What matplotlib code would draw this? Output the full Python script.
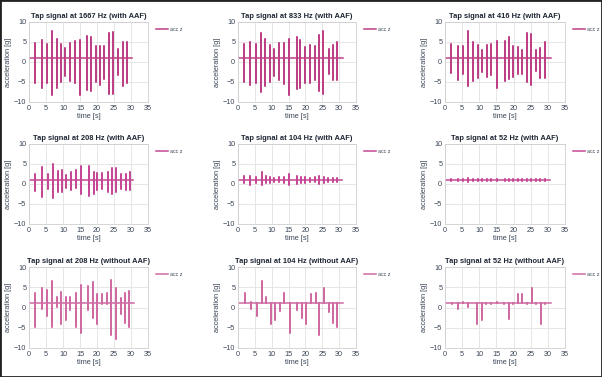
import numpy as np
import matplotlib
matplotlib.use("Agg")
import matplotlib.pyplot as plt
from matplotlib.patches import Rectangle

plt.rcParams['font.family'] = ['Liberation Sans', 'DejaVu Sans']

titles = [
    "Tap signal at 1667 Hz (with AAF)", "Tap signal at 833 Hz (with AAF)", "Tap signal at 416 Hz (with AAF)",
    "Tap signal at 208 Hz (with AAF)", "Tap signal at 104 Hz (with AAF)", "Tap signal at 52 Hz (with AAF)",
    "Tap signal at 208 Hz (without AAF)", "Tap signal at 104 Hz (without AAF)", "Tap signal at 52 Hz (without AAF)",
]
baseline = 1.0
start_time = 0.3

p1_t = [1.8, 3.7, 5.3, 6.7, 8.1, 9.4, 10.6, 12.0, 13.4, 15.0, 17.2, 18.1, 19.7, 21.0, 22.2, 23.6, 24.8, 26.3, 27.5, 28.7]
p1_max = [4.8, 5.4, 4.4, 7.7, 5.8, 4.4, 3.4, 4.7, 5.2, 5.6, 6.4, 6.2, 4.1, 4.0, 4.1, 7.2, 7.5, 3.3, 5.0, 5.0]
p1_min = [-5.2, -6.5, -5.2, -8.2, -6.4, -5.0, -3.5, -4.8, -5.2, -8.2, -7.1, -7.3, -5.0, -5.8, -4.2, -7.9, -8.1, -3.3, -5.9, -5.2]

p2_t = [1.7, 3.6, 5.2, 6.9, 8.1, 9.4, 10.7, 12.1, 13.5, 15.2, 17.4, 18.5, 20.0, 21.4, 22.8, 24.1, 25.3, 26.9, 28.1, 29.3]
p2_max = [4.6, 5.0, 4.4, 7.3, 5.7, 4.25, 3.2, 4.75, 4.75, 5.8, 6.25, 5.6, 3.75, 4.25, 4.1, 6.7, 7.75, 3.2, 4.3, 5.0]
p2_min = [-5.0, -5.75, -5.25, -7.6, -6.1, -5.0, -3.4, -4.4, -5.4, -8.2, -6.7, -6.4, -5.25, -5.25, -4.4, -7.25, -7.9, -3.1, -4.6, -4.4]

p3_t = [1.8, 3.9, 5.3, 6.8, 8.2, 9.5, 10.8, 12.2, 13.5, 15.1, 17.4, 18.7, 19.9, 21.3, 22.6, 23.9, 25.2, 26.5, 27.7, 29.1]
p3_max = [4.5, 4.0, 4.1, 7.8, 4.9, 4.3, 3.1, 4.3, 4.4, 5.2, 5.2, 6.2, 4.1, 3.7, 3.1, 7.2, 7.0, 2.9, 3.4, 4.9]
p3_min = [-2.7, -4.6, -3.1, -6.1, -4.7, -4.1, -2.6, -3.7, -3.3, -6.4, -4.7, -4.2, -3.7, -3.1, -3.1, -5.1, -5.8, -2.3, -4.1, -4.1]

p4_t = [1.9, 3.9, 5.6, 7.1, 8.5, 9.6, 10.9, 12.3, 13.8, 15.3, 17.6, 19.0, 20.1, 21.6, 23.1, 24.4, 25.7, 27.2, 28.5, 29.7]
p4_max = [2.5, 4.3, 2.5, 4.9, 3.3, 3.5, 2.3, 2.9, 3.5, 4.4, 4.4, 3.0, 2.8, 2.7, 2.9, 4.1, 4.1, 2.5, 2.5, 3.0]
p4_min = [-1.7, -3.2, -1.3, -3.5, -2.1, -1.9, -0.9, -1.5, -1.0, -2.5, -2.9, -2.5, -1.5, -1.3, -2.0, -2.5, -2.1, -1.3, -1.5, -1.5]

p5_t = [1.8, 3.7, 5.2, 7.0, 8.3, 9.6, 10.8, 12.1, 13.5, 15.2, 17.5, 18.7, 20.0, 21.4, 22.9, 24.1, 25.4, 26.8, 28.1, 29.3]
p5_max = [1.9, 2.1, 1.8, 2.9, 1.9, 1.8, 1.6, 1.7, 1.8, 2.4, 2.1, 1.8, 1.7, 1.6, 1.7, 1.9, 1.8, 1.6, 1.6, 1.6]
p5_min = [0.3, -0.3, 0.3, -0.3, 0.2, 0.3, 0.5, 0.4, 0.3, -0.2, 0.0, 0.2, 0.3, 0.4, 0.4, 0.0, 0.2, 0.5, 0.5, 0.5]

p6_t = [1.8, 3.9, 5.3, 6.8, 8.2, 9.5, 10.8, 12.2, 13.5, 15.1, 17.4, 18.7, 19.9, 21.3, 22.6, 23.9, 25.2, 26.5, 27.7, 29.1]
p6_max = [1.2, 1.3, 1.2, 1.4, 1.2, 1.2, 1.2, 1.2, 1.2, 1.3, 1.3, 1.2, 1.2, 1.2, 1.2, 1.3, 1.3, 1.2, 1.2, 1.2]
p6_min = [0.8, 0.7, 0.8, 0.6, 0.8, 0.8, 0.8, 0.8, 0.8, 0.7, 0.7, 0.8, 0.8, 0.8, 0.8, 0.7, 0.7, 0.8, 0.8, 0.8]

p7_t = [1.7, 3.7, 5.3, 6.8, 8.2, 9.4, 10.8, 12.2, 13.7, 15.2, 17.4, 18.8, 20.0, 21.5, 22.9, 24.1, 25.5, 27.0, 28.2, 29.5]
p7_max = [3.7, 4.9, 4.3, 6.5, 2.6, 3.9, 2.6, 2.6, 3.7, 5.6, 5.2, 6.2, 3.3, 3.3, 3.6, 6.7, 4.9, 2.4, 3.5, 4.0]
p7_min = [-4.9, -0.4, -2.1, -4.9, 0.2, -4.1, -3.1, -0.7, -4.9, -6.3, -0.5, -2.7, -4.1, 0.8, 0.8, -6.8, -7.8, -1.5, -3.9, -4.9]

p8_t = [2.1, 3.9, 5.6, 7.1, 8.3, 9.7, 10.9, 12.4, 13.7, 15.3, 17.6, 18.9, 20.1, 21.6, 23.0, 24.1, 25.6, 26.9, 28.2, 29.3]
p8_max = [3.7, 1.4, 1.0, 6.5, 2.5, 1.0, 1.0, 1.0, 3.5, 1.0, 1.0, 1.0, 1.0, 3.4, 3.5, 1.0, 4.8, 1.0, 1.0, 1.0]
p8_min = [1.0, -0.4, -2.1, 1.0, 1.0, -4.0, -3.1, -0.8, 1.0, -6.3, -0.5, -2.7, -4.0, 1.0, 1.0, -6.8, 1.0, -1.1, -3.9, -4.9]

p9_t = [1.9, 3.9, 5.3, 6.8, 8.1, 9.3, 10.8, 12.1, 13.5, 15.1, 17.3, 18.6, 19.9, 21.3, 22.6, 23.9, 25.3, 26.5, 27.9, 29.1]
p9_max = [1.1, 1.0, 1.4, 1.0, 1.2, 1.0, 1.0, 1.1, 1.1, 1.3, 1.1, 1.0, 1.1, 3.3, 3.4, 1.1, 4.8, 1.1, 1.0, 1.1]
p9_min = [0.9, -0.4, 1.0, 0.2, 1.0, -4.0, -3.2, 0.9, 0.9, 1.0, 0.9, -2.8, 0.9, 1.0, 1.0, 0.8, 1.0, 0.9, -4.0, 0.9]

end_times = [30.3, 31.0, 30.9, 30.5, 30.8, 30.5, 31.0, 31.0, 31.0]

taps = [(p1_t, p1_max, p1_min), (p2_t, p2_max, p2_min), (p3_t, p3_max, p3_min),
        (p4_t, p4_max, p4_min), (p5_t, p5_max, p5_min), (p6_t, p6_max, p6_min),
        (p7_t, p7_max, p7_min), (p8_t, p8_max, p8_min), (p9_t, p9_max, p9_min)]

xticks = [0, 5, 10, 15, 20, 25, 30, 35]
yticks = [-10, -5, 0, 5, 10]


def build_series(times, mx, mn, end):
    t = [start_time]
    y = [baseline]
    for ti, a, b in zip(times, mx, mn):
        t += [ti, ti, ti, ti]
        y += [baseline, a, b, baseline]
    t.append(end)
    y.append(baseline)
    return np.array(t), np.array(y)


W, H = 602, 377
fig = plt.figure(figsize=(W / 100, H / 100), dpi=100)
fig.patch.set_facecolor('white')

col_left = [29, 238, 445]
col_w = [119, 118, 120]
row_top = [22, 144, 267]
row_h = [80, 80, 81]
row_colors = ['#bd3f86', '#c44894', '#cf6aa3']

text_c = '#3a4556'
for i in range(9):
    r, c = divmod(i, 3)
    ax = fig.add_axes([col_left[c] / W, 1 - (row_top[r] + row_h[r]) / H, col_w[c] / W, row_h[r] / H])
    t, y = build_series(*taps[i], end_times[i])
    ax.plot(t, y, color=row_colors[r], lw=1.1, label='acc z')
    ax.set_xlim(0, 35)
    ax.set_ylim(-10, 10)
    ax.set_xticks(xticks)
    ax.set_yticks(yticks)
    ax.grid(True, color='#e2e2e2', lw=0.6)
    ax.set_axisbelow(True)
    for s in ax.spines.values():
        s.set_color('#cfcfcf')
        s.set_linewidth(0.6)
    ax.tick_params(length=0, labelsize=5.2, colors=text_c, pad=2)
    ax.set_title(titles[i], fontsize=5.4, fontweight='bold', color='#1d2533', pad=3)
    ax.set_xlabel('time [s]', fontsize=5.3, color=text_c, labelpad=1)
    ax.set_ylabel('acceleration [g]', fontsize=5.3, color=text_c, labelpad=1)
    ax.legend(loc='upper left', bbox_to_anchor=(1.03, 1.0), frameon=False, fontsize=3.8,
              handlelength=2.2, handletextpad=0.4, labelcolor=text_c)

fig.patches.append(Rectangle((0, 0), 1, 1, transform=fig.transFigure, fill=False,
                             edgecolor='#222222', lw=2.0))
fig.savefig('out.png', dpi=100)
